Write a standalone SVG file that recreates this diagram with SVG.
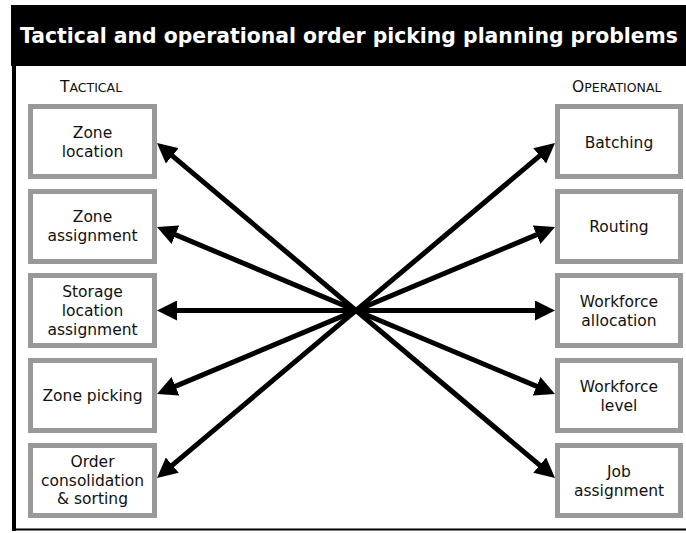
<svg xmlns="http://www.w3.org/2000/svg" width="686" height="533" viewBox="0 0 686 533">
<style>
.box{fill:#fff;stroke:#999;stroke-width:5}
.lbl{font-family:"DejaVu Sans",Verdana,sans-serif;font-size:15.5px;fill:#111;text-anchor:middle}
.hdr{font-family:"DejaVu Sans",Verdana,sans-serif;fill:#111}
.conn{stroke:#000;stroke-width:5;fill:none;marker-start:url(#ah);marker-end:url(#ah)}
</style>
<defs>
<marker id="ah" markerUnits="userSpaceOnUse" viewBox="0 0 20 20" markerWidth="20" markerHeight="20" refX="10" refY="10" orient="auto-start-reverse">
<path d="M0,0 L20,10 L0,20 z" fill="#000"/>
</marker>
</defs>
<rect x="0" y="0" width="686" height="533" fill="#fff"/>
<g id="frame">
<rect x="11" y="5" width="675" height="61" fill="#000"/>
<rect x="12" y="5" width="4" height="526" fill="#000"/>
<rect x="12" y="528.5" width="674" height="2" fill="#000"/>
<text x="20" y="43" font-family="'DejaVu Sans',Verdana,sans-serif" font-weight="bold" font-size="20.5" fill="#fff" textLength="658" lengthAdjust="spacingAndGlyphs">Tactical and operational order picking planning problems</text>
</g>
<g id="col-headers">
<text class="hdr" x="60" y="92"><tspan font-size="15.5">T</tspan><tspan font-size="12.5">ACTICAL</tspan></text>
<text class="hdr" x="572" y="92"><tspan font-size="15.5">O</tspan><tspan font-size="12.5">PERATIONAL</tspan></text>
</g>
<g id="connectors">
<line class="conn" x1="164.65" y1="149.44" x2="547.35" y2="471.56"/>
<line class="conn" x1="166.22" y1="230.87" x2="545.78" y2="390.13"/>
<line class="conn" x1="167" y1="310.5" x2="545" y2="310.5"/>
<line class="conn" x1="166.22" y1="390.13" x2="545.78" y2="230.87"/>
<line class="conn" x1="164.65" y1="471.56" x2="547.35" y2="149.44"/>
</g>
<g id="zone-location"><rect class="box" x="30.5" y="106.5" width="124" height="70"/><text class="lbl" x="92.5" y="138">Zone</text><text class="lbl" x="92.5" y="157">location</text></g>
<g id="zone-assignment"><rect class="box" x="30.5" y="191.5" width="124" height="70"/><text class="lbl" x="92.5" y="222">Zone</text><text class="lbl" x="92.5" y="241">assignment</text></g>
<g id="storage-location-assignment"><rect class="box" x="30.5" y="275.5" width="124" height="70"/><text class="lbl" x="92.5" y="297">Storage</text><text class="lbl" x="92.5" y="316">location</text><text class="lbl" x="92.5" y="335">assignment</text></g>
<g id="zone-picking"><rect class="box" x="30.5" y="360.5" width="124" height="70"/><text class="lbl" x="92.5" y="401">Zone picking</text></g>
<g id="order-consolidation"><rect class="box" x="30.5" y="445.5" width="124" height="70"/><text class="lbl" x="92.5" y="467">Order</text><text class="lbl" x="92.5" y="485.5">consolidation</text><text class="lbl" x="92.5" y="504">&amp; sorting</text></g>
<g id="batching"><rect class="box" x="557.5" y="106.5" width="123" height="70"/><text class="lbl" x="619" y="147.5">Batching</text></g>
<g id="routing"><rect class="box" x="557.5" y="191.5" width="123" height="70"/><text class="lbl" x="619" y="232">Routing</text></g>
<g id="workforce-allocation"><rect class="box" x="557.5" y="275.5" width="123" height="70"/><text class="lbl" x="619" y="307">Workforce</text><text class="lbl" x="619" y="326">allocation</text></g>
<g id="workforce-level"><rect class="box" x="557.5" y="360.5" width="123" height="70"/><text class="lbl" x="619" y="392">Workforce</text><text class="lbl" x="619" y="411">level</text></g>
<g id="job-assignment"><rect class="box" x="557.5" y="445.5" width="123" height="70"/><text class="lbl" x="619" y="477">Job</text><text class="lbl" x="619" y="496">assignment</text></g>
</svg>
